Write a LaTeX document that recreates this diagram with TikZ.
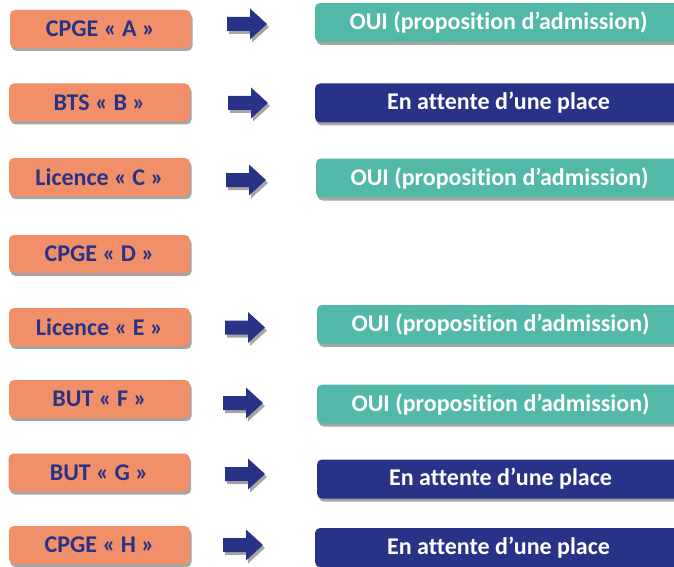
\documentclass[tikz,border=0pt]{standalone}
\usepackage{fontspec}
\setmainfont[Ligatures=NoCommon]{Carlito}
\usetikzlibrary{shadows}
\definecolor{orangebox}{RGB}{240,143,104}
\definecolor{tealbox}{RGB}{82,185,169}
\definecolor{navy}{RGB}{40,51,136}
\definecolor{shadowgray}{RGB}{166,166,166}
\tikzset{
  boxshadow/.style={drop shadow={shadow xshift=1.5pt,shadow yshift=-3pt,fill=shadowgray,opacity=1}},
  leftbox/.style={rectangle,rounded corners=5pt,fill=orangebox,text=navy,font=\bfseries\fontsize{24}{26}\selectfont,
    minimum width=181pt,minimum height=38pt,inner sep=0pt,boxshadow},
  yesbox/.style={rectangle,rounded corners=5pt,fill=tealbox,text=white,font=\bfseries\fontsize{24}{26}\selectfont,
    minimum width=367pt,minimum height=39pt,inner sep=0pt,boxshadow},
  waitbox/.style={rectangle,rounded corners=5pt,fill=navy,text=white,font=\bfseries\fontsize{24}{26}\selectfont,
    minimum width=367pt,minimum height=39pt,inner sep=0pt,boxshadow},
  arrowfill/.style={fill=navy},
  arrowshadow/.style={fill=shadowgray},
}
\newcommand{\blockarrow}[2]{%
  \fill[arrowshadow,shift={(#1+2,#2+3)}] (0,-7) -- (23,-7) -- (23,-15.5) -- (40,0) -- (23,15.5) -- (23,7) -- (0,7) -- cycle;
  \fill[arrowfill,shift={(#1,#2)}] (0,-7) -- (23,-7) -- (23,-15.5) -- (40,0) -- (23,15.5) -- (23,7) -- (0,7) -- cycle;
}
\begin{document}
\begin{tikzpicture}[x=1pt,y=-1pt]
\useasboundingbox (0,0) rectangle (674,567);
\clip (0,0) rectangle (674,567);
% left boxes
\node[leftbox] (la) at (100.5,29) {CPGE « A »};
\node[leftbox] (lb) at (99.5,102.5) {BTS « B »};
\node[leftbox] (lc) at (99.5,177) {Licence « C »};
\node[leftbox] (ld) at (99.5,254) {CPGE « D »};
\node[leftbox] (le) at (99.5,327) {Licence « E »};
\node[leftbox] (lf) at (99.5,399) {BUT « F »};
\node[leftbox] (lg) at (99,472.5) {BUT « G »};
\node[leftbox] (lh) at (99.5,545) {CPGE « H »};
% arrows
\blockarrow{227}{24}
\blockarrow{228}{103}
\blockarrow{226}{180}
\blockarrow{225}{327.5}
\blockarrow{223}{403}
\blockarrow{225}{474}
\blockarrow{223}{545}
% right boxes
\node[yesbox] (ra) at (498.5,22.5) {OUI (proposition d’admission)};
\node[waitbox] (rb) at (498.5,103) {En attente d’une place};
\node[yesbox] (rc) at (499.5,178) {OUI (proposition d’admission)};
\node[yesbox] (re) at (500.5,324.5) {OUI (proposition d’admission)};
\node[yesbox] (rf) at (500.5,404) {OUI (proposition d’admission)};
\node[waitbox] (rg) at (500.5,479) {En attente d’une place};
\node[waitbox] (rh) at (498.5,547.5) {En attente d’une place};
\end{tikzpicture}
\end{document}
